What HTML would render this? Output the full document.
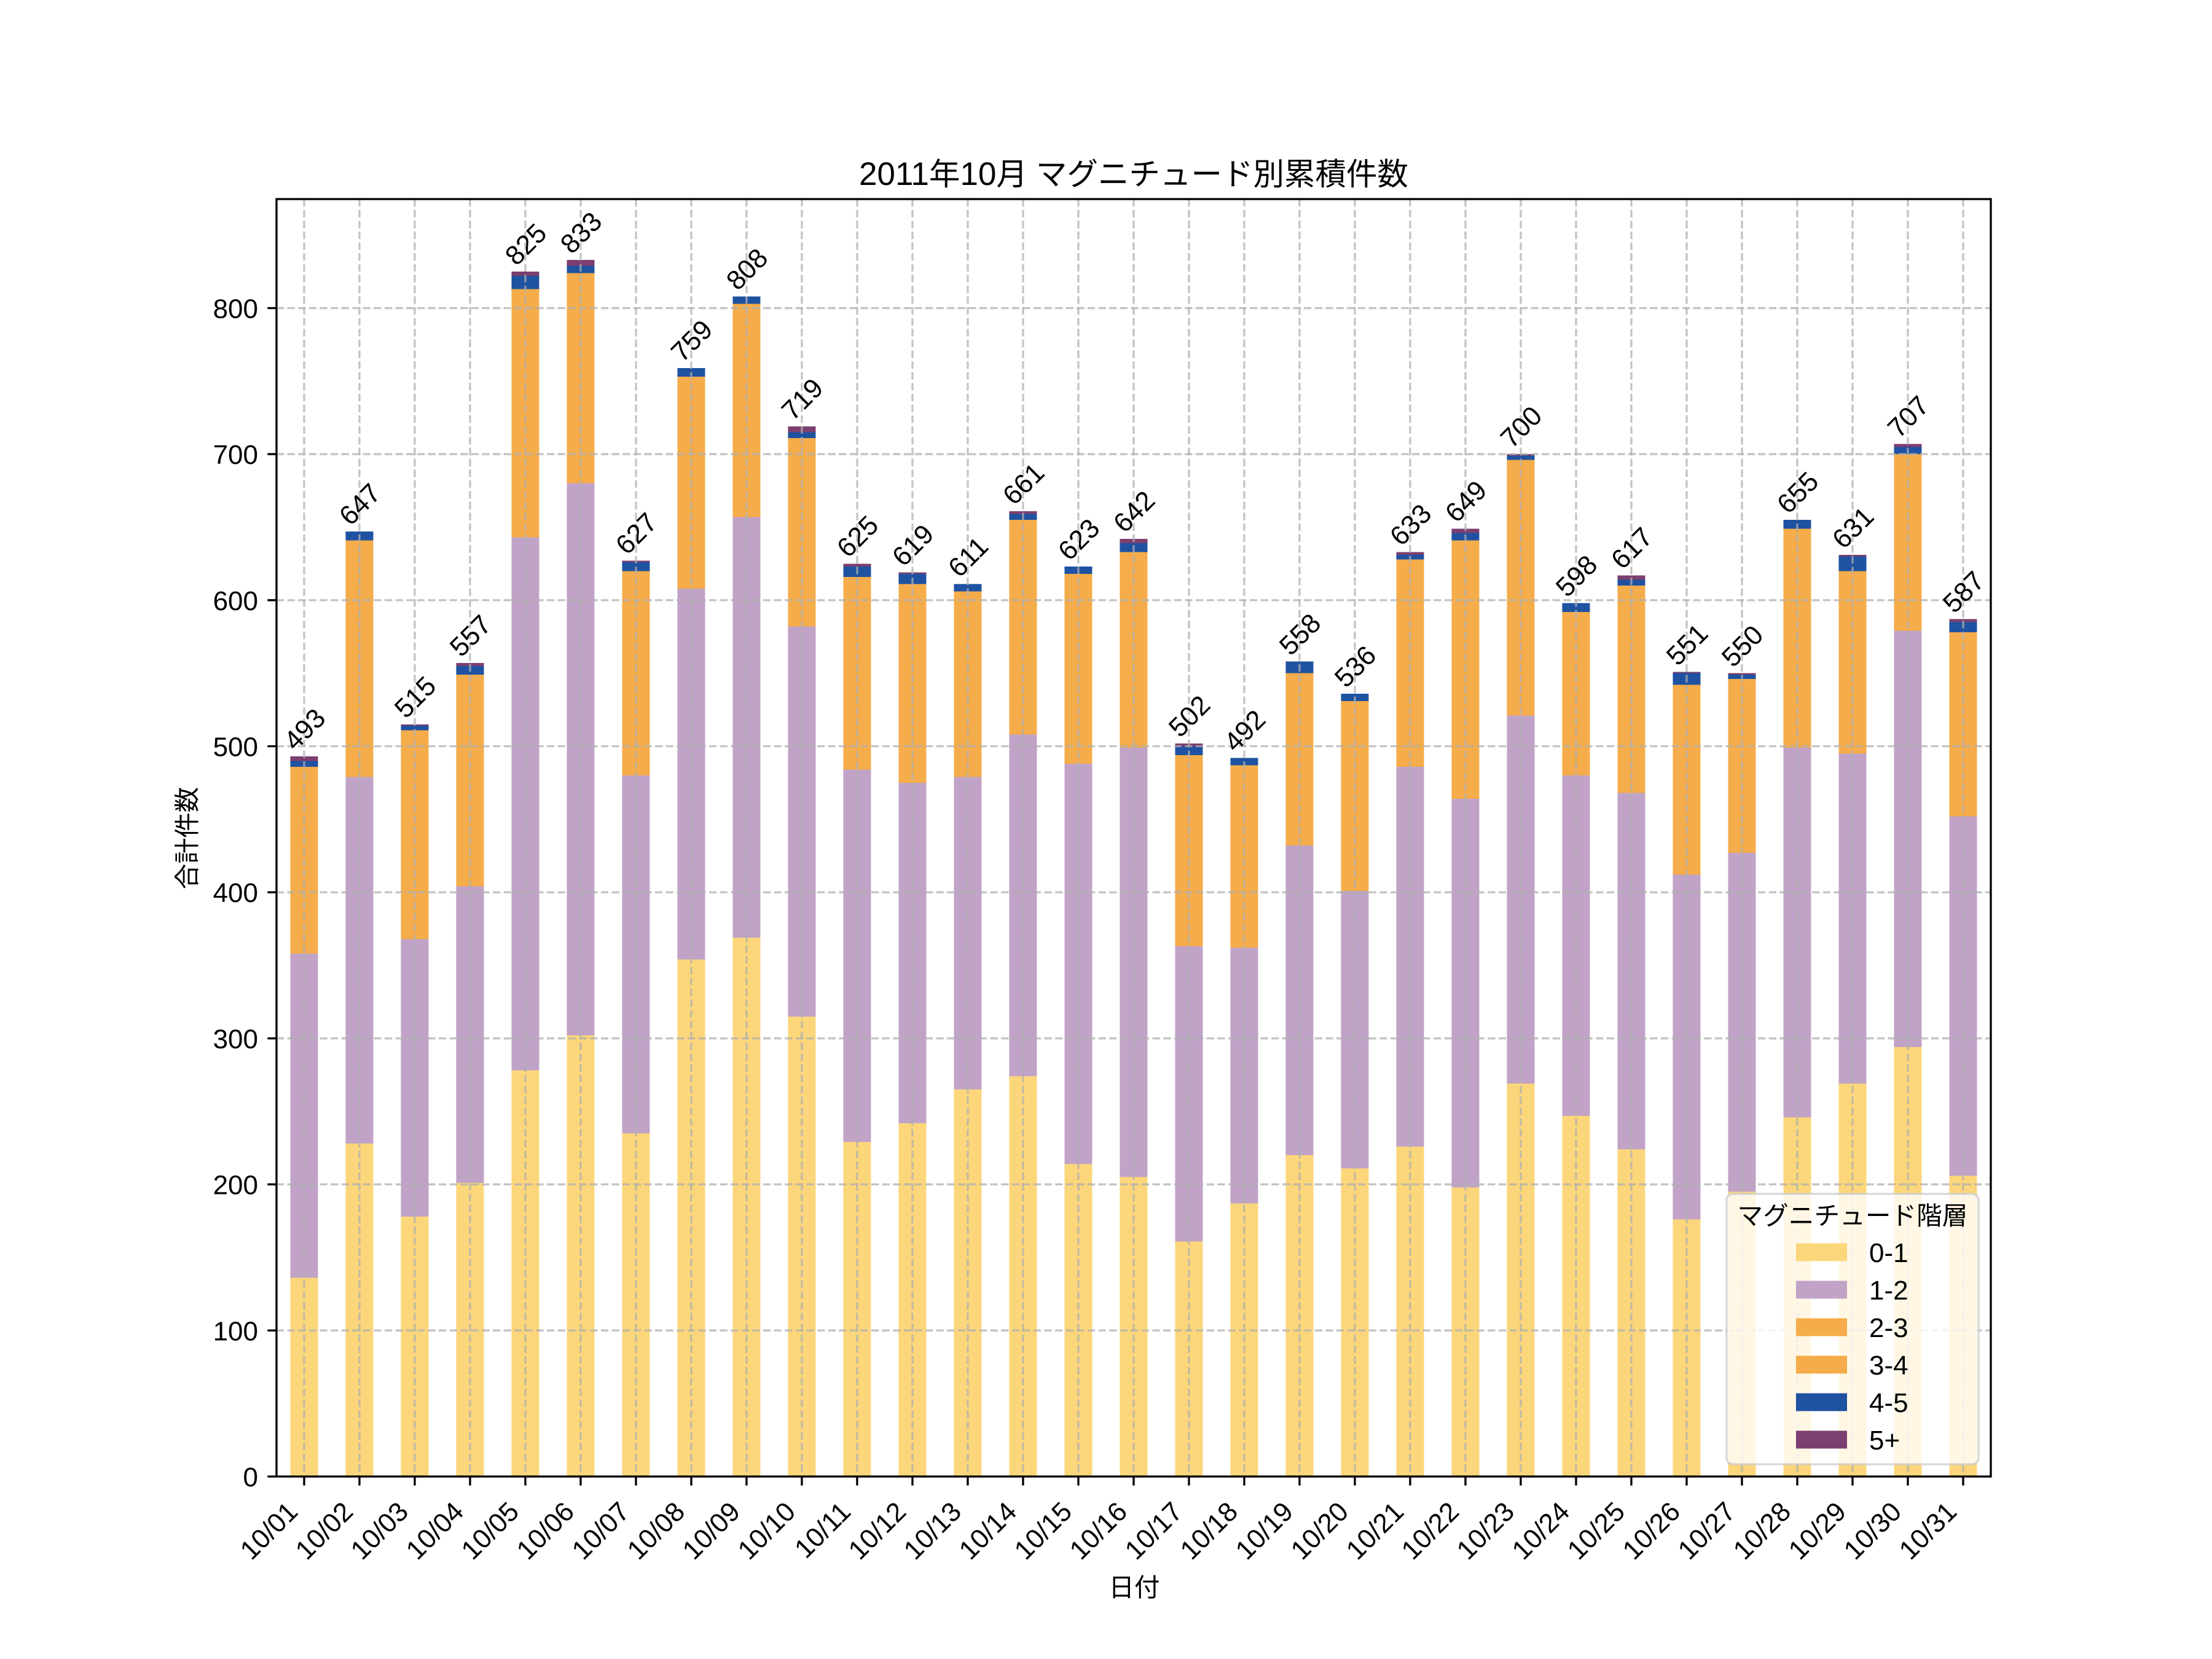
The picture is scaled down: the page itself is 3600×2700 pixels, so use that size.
<!DOCTYPE html>
<html><head><meta charset="utf-8"><style>
html,body{margin:0;padding:0;background:#fff;}
svg{display:block;font-family:"Liberation Sans","Noto Sans CJK JP",sans-serif;}
</style></head><body>
<svg width="3600" height="2700" viewBox="0 0 3600 2700" xmlns="http://www.w3.org/2000/svg">
<rect x="0" y="0" width="3600" height="2700" fill="#fff"/>
<g transform="translate(495,2403) scale(90,-2.37695)" shape-rendering="crispEdges">
<g fill="#FCD67A">
<rect x="-0.25" y="0" width="0.5" height="136"/><rect x="0.75" y="0" width="0.5" height="228"/><rect x="1.75" y="0" width="0.5" height="178"/><rect x="2.75" y="0" width="0.5" height="201"/><rect x="3.75" y="0" width="0.5" height="278"/><rect x="4.75" y="0" width="0.5" height="302"/><rect x="5.75" y="0" width="0.5" height="235"/><rect x="6.75" y="0" width="0.5" height="354"/><rect x="7.75" y="0" width="0.5" height="369"/><rect x="8.75" y="0" width="0.5" height="315"/><rect x="9.75" y="0" width="0.5" height="229"/><rect x="10.75" y="0" width="0.5" height="242"/><rect x="11.75" y="0" width="0.5" height="265"/><rect x="12.75" y="0" width="0.5" height="274"/><rect x="13.75" y="0" width="0.5" height="214"/><rect x="14.75" y="0" width="0.5" height="205"/><rect x="15.75" y="0" width="0.5" height="161"/><rect x="16.75" y="0" width="0.5" height="187"/><rect x="17.75" y="0" width="0.5" height="220"/><rect x="18.75" y="0" width="0.5" height="211"/><rect x="19.75" y="0" width="0.5" height="226"/><rect x="20.75" y="0" width="0.5" height="198"/><rect x="21.75" y="0" width="0.5" height="269"/><rect x="22.75" y="0" width="0.5" height="247"/><rect x="23.75" y="0" width="0.5" height="224"/><rect x="24.75" y="0" width="0.5" height="176"/><rect x="25.75" y="0" width="0.5" height="195"/><rect x="26.75" y="0" width="0.5" height="246"/><rect x="27.75" y="0" width="0.5" height="269"/><rect x="28.75" y="0" width="0.5" height="294"/><rect x="29.75" y="0" width="0.5" height="206"/>
</g>
<g fill="#C0A3C7">
<rect x="-0.25" y="136" width="0.5" height="222"/><rect x="0.75" y="228" width="0.5" height="251"/><rect x="1.75" y="178" width="0.5" height="190"/><rect x="2.75" y="201" width="0.5" height="203"/><rect x="3.75" y="278" width="0.5" height="365"/><rect x="4.75" y="302" width="0.5" height="378"/><rect x="5.75" y="235" width="0.5" height="245"/><rect x="6.75" y="354" width="0.5" height="254"/><rect x="7.75" y="369" width="0.5" height="288"/><rect x="8.75" y="315" width="0.5" height="267"/><rect x="9.75" y="229" width="0.5" height="255"/><rect x="10.75" y="242" width="0.5" height="233"/><rect x="11.75" y="265" width="0.5" height="214"/><rect x="12.75" y="274" width="0.5" height="234"/><rect x="13.75" y="214" width="0.5" height="274"/><rect x="14.75" y="205" width="0.5" height="294"/><rect x="15.75" y="161" width="0.5" height="202"/><rect x="16.75" y="187" width="0.5" height="175"/><rect x="17.75" y="220" width="0.5" height="212"/><rect x="18.75" y="211" width="0.5" height="190"/><rect x="19.75" y="226" width="0.5" height="260"/><rect x="20.75" y="198" width="0.5" height="266"/><rect x="21.75" y="269" width="0.5" height="252"/><rect x="22.75" y="247" width="0.5" height="233"/><rect x="23.75" y="224" width="0.5" height="244"/><rect x="24.75" y="176" width="0.5" height="236"/><rect x="25.75" y="195" width="0.5" height="232"/><rect x="26.75" y="246" width="0.5" height="253"/><rect x="27.75" y="269" width="0.5" height="226"/><rect x="28.75" y="294" width="0.5" height="285"/><rect x="29.75" y="206" width="0.5" height="246"/>
</g>
<g fill="#F5AC4A">
<rect x="-0.25" y="358" width="0.5" height="128"/><rect x="0.75" y="479" width="0.5" height="162"/><rect x="1.75" y="368" width="0.5" height="143"/><rect x="2.75" y="404" width="0.5" height="145"/><rect x="3.75" y="643" width="0.5" height="170"/><rect x="4.75" y="680" width="0.5" height="144"/><rect x="5.75" y="480" width="0.5" height="140"/><rect x="6.75" y="608" width="0.5" height="145"/><rect x="7.75" y="657" width="0.5" height="146"/><rect x="8.75" y="582" width="0.5" height="129"/><rect x="9.75" y="484" width="0.5" height="132"/><rect x="10.75" y="475" width="0.5" height="136"/><rect x="11.75" y="479" width="0.5" height="127"/><rect x="12.75" y="508" width="0.5" height="147"/><rect x="13.75" y="488" width="0.5" height="130"/><rect x="14.75" y="499" width="0.5" height="134"/><rect x="15.75" y="363" width="0.5" height="131"/><rect x="16.75" y="362" width="0.5" height="125"/><rect x="17.75" y="432" width="0.5" height="118"/><rect x="18.75" y="401" width="0.5" height="130"/><rect x="19.75" y="486" width="0.5" height="142"/><rect x="20.75" y="464" width="0.5" height="177"/><rect x="21.75" y="521" width="0.5" height="175"/><rect x="22.75" y="480" width="0.5" height="112"/><rect x="23.75" y="468" width="0.5" height="142"/><rect x="24.75" y="412" width="0.5" height="130"/><rect x="25.75" y="427" width="0.5" height="119"/><rect x="26.75" y="499" width="0.5" height="150"/><rect x="27.75" y="495" width="0.5" height="125"/><rect x="28.75" y="579" width="0.5" height="121"/><rect x="29.75" y="452" width="0.5" height="126"/>
</g>
<g fill="#1F52A1">
<rect x="-0.25" y="486" width="0.5" height="4"/><rect x="0.75" y="641" width="0.5" height="6"/><rect x="1.75" y="511" width="0.5" height="3"/><rect x="2.75" y="549" width="0.5" height="6"/><rect x="3.75" y="813" width="0.5" height="9"/><rect x="4.75" y="824" width="0.5" height="5"/><rect x="5.75" y="620" width="0.5" height="6"/><rect x="6.75" y="753" width="0.5" height="6"/><rect x="7.75" y="803" width="0.5" height="5"/><rect x="8.75" y="711" width="0.5" height="4"/><rect x="9.75" y="616" width="0.5" height="7"/><rect x="10.75" y="611" width="0.5" height="7"/><rect x="11.75" y="606" width="0.5" height="5"/><rect x="12.75" y="655" width="0.5" height="4"/><rect x="13.75" y="618" width="0.5" height="5"/><rect x="14.75" y="633" width="0.5" height="6"/><rect x="15.75" y="494" width="0.5" height="6"/><rect x="16.75" y="487" width="0.5" height="5"/><rect x="17.75" y="550" width="0.5" height="8"/><rect x="18.75" y="531" width="0.5" height="5"/><rect x="19.75" y="628" width="0.5" height="3"/><rect x="20.75" y="641" width="0.5" height="5"/><rect x="21.75" y="696" width="0.5" height="3"/><rect x="22.75" y="592" width="0.5" height="6"/><rect x="23.75" y="610" width="0.5" height="4"/><rect x="24.75" y="542" width="0.5" height="8"/><rect x="25.75" y="546" width="0.5" height="3"/><rect x="26.75" y="649" width="0.5" height="6"/><rect x="27.75" y="620" width="0.5" height="10"/><rect x="28.75" y="700" width="0.5" height="5"/><rect x="29.75" y="578" width="0.5" height="7"/>
</g>
<g fill="#7B3F70">
<rect x="-0.25" y="490" width="0.5" height="3"/><rect x="1.75" y="514" width="0.5" height="1"/><rect x="2.75" y="555" width="0.5" height="2"/><rect x="3.75" y="822" width="0.5" height="3"/><rect x="4.75" y="829" width="0.5" height="4"/><rect x="5.75" y="626" width="0.5" height="1"/><rect x="8.75" y="715" width="0.5" height="4"/><rect x="9.75" y="623" width="0.5" height="2"/><rect x="10.75" y="618" width="0.5" height="1"/><rect x="12.75" y="659" width="0.5" height="2"/><rect x="14.75" y="639" width="0.5" height="3"/><rect x="15.75" y="500" width="0.5" height="2"/><rect x="19.75" y="631" width="0.5" height="2"/><rect x="20.75" y="646" width="0.5" height="3"/><rect x="21.75" y="699" width="0.5" height="1"/><rect x="23.75" y="614" width="0.5" height="3"/><rect x="24.75" y="550" width="0.5" height="1"/><rect x="25.75" y="549" width="0.5" height="1"/><rect x="27.75" y="630" width="0.5" height="1"/><rect x="28.75" y="705" width="0.5" height="2"/><rect x="29.75" y="585" width="0.5" height="2"/>
</g>
</g>
<g stroke="#b0b0b0" stroke-opacity="0.75" stroke-width="3.33" stroke-dasharray="12.3 5.3" fill="none">
<path d="M450 2165.3H3240M450 1927.6H3240M450 1689.9H3240M450 1452.2H3240M450 1214.5H3240M450 976.8H3240M450 739.1H3240M450 501.4H3240"/>
<path d="M495 324V2403M585 324V2403M675 324V2403M765 324V2403M855 324V2403M945 324V2403M1035 324V2403M1125 324V2403M1215 324V2403M1305 324V2403M1395 324V2403M1485 324V2403M1575 324V2403M1665 324V2403M1755 324V2403M1845 324V2403M1935 324V2403M2025 324V2403M2115 324V2403M2205 324V2403M2295 324V2403M2385 324V2403M2475 324V2403M2565 324V2403M2655 324V2403M2745 324V2403M2835 324V2403M2925 324V2403M3015 324V2403M3105 324V2403M3195 324V2403"/>
</g>
<g font-size="44" fill="#000" text-anchor="middle">
<text transform="translate(495,1186.2) rotate(-45)" y="16">493</text>
<text transform="translate(585,820.1) rotate(-45)" y="16">647</text>
<text transform="translate(675,1133.9) rotate(-45)" y="16">515</text>
<text transform="translate(765,1034.0) rotate(-45)" y="16">557</text>
<text transform="translate(855,397.0) rotate(-45)" y="16">825</text>
<text transform="translate(945,378.0) rotate(-45)" y="16">833</text>
<text transform="translate(1035,867.6) rotate(-45)" y="16">627</text>
<text transform="translate(1125,553.9) rotate(-45)" y="16">759</text>
<text transform="translate(1215,437.4) rotate(-45)" y="16">808</text>
<text transform="translate(1305,649.0) rotate(-45)" y="16">719</text>
<text transform="translate(1395,872.4) rotate(-45)" y="16">625</text>
<text transform="translate(1485,886.7) rotate(-45)" y="16">619</text>
<text transform="translate(1575,905.7) rotate(-45)" y="16">611</text>
<text transform="translate(1665,786.8) rotate(-45)" y="16">661</text>
<text transform="translate(1755,877.2) rotate(-45)" y="16">623</text>
<text transform="translate(1845,832.0) rotate(-45)" y="16">642</text>
<text transform="translate(1935,1164.8) rotate(-45)" y="16">502</text>
<text transform="translate(2025,1188.5) rotate(-45)" y="16">492</text>
<text transform="translate(2115,1031.7) rotate(-45)" y="16">558</text>
<text transform="translate(2205,1084.0) rotate(-45)" y="16">536</text>
<text transform="translate(2295,853.4) rotate(-45)" y="16">633</text>
<text transform="translate(2385,815.4) rotate(-45)" y="16">649</text>
<text transform="translate(2475,694.1) rotate(-45)" y="16">700</text>
<text transform="translate(2565,936.6) rotate(-45)" y="16">598</text>
<text transform="translate(2655,891.4) rotate(-45)" y="16">617</text>
<text transform="translate(2745,1048.3) rotate(-45)" y="16">551</text>
<text transform="translate(2835,1050.7) rotate(-45)" y="16">550</text>
<text transform="translate(2925,801.1) rotate(-45)" y="16">655</text>
<text transform="translate(3015,858.1) rotate(-45)" y="16">631</text>
<text transform="translate(3105,677.5) rotate(-45)" y="16">707</text>
<text transform="translate(3195,962.7) rotate(-45)" y="16">587</text>
</g>
<rect x="450" y="324" width="2790" height="2079" fill="none" stroke="#000" stroke-width="3.33"/>
<g stroke="#000" stroke-width="3.33">
<path d="M435.4 2403H450M435.4 2165.3H450M435.4 1927.6H450M435.4 1689.9H450M435.4 1452.2H450M435.4 1214.5H450M435.4 976.8H450M435.4 739.1H450M435.4 501.4H450"/>
<path d="M495 2403V2417.6M585 2403V2417.6M675 2403V2417.6M765 2403V2417.6M855 2403V2417.6M945 2403V2417.6M1035 2403V2417.6M1125 2403V2417.6M1215 2403V2417.6M1305 2403V2417.6M1395 2403V2417.6M1485 2403V2417.6M1575 2403V2417.6M1665 2403V2417.6M1755 2403V2417.6M1845 2403V2417.6M1935 2403V2417.6M2025 2403V2417.6M2115 2403V2417.6M2205 2403V2417.6M2295 2403V2417.6M2385 2403V2417.6M2475 2403V2417.6M2565 2403V2417.6M2655 2403V2417.6M2745 2403V2417.6M2835 2403V2417.6M2925 2403V2417.6M3015 2403V2417.6M3105 2403V2417.6M3195 2403V2417.6"/>
</g>
<g font-size="44" fill="#000" text-anchor="end">
<text x="420" y="2419">0</text>
<text x="420" y="2181.3">100</text>
<text x="420" y="1943.6">200</text>
<text x="420" y="1705.9">300</text>
<text x="420" y="1468.2">400</text>
<text x="420" y="1230.5">500</text>
<text x="420" y="992.8">600</text>
<text x="420" y="755.1">700</text>
<text x="420" y="517.4">800</text>
</g>
<g font-size="44" fill="#000" text-anchor="end">
<text transform="translate(487,2463) rotate(-45)">10/01</text>
<text transform="translate(577,2463) rotate(-45)">10/02</text>
<text transform="translate(667,2463) rotate(-45)">10/03</text>
<text transform="translate(757,2463) rotate(-45)">10/04</text>
<text transform="translate(847,2463) rotate(-45)">10/05</text>
<text transform="translate(937,2463) rotate(-45)">10/06</text>
<text transform="translate(1027,2463) rotate(-45)">10/07</text>
<text transform="translate(1117,2463) rotate(-45)">10/08</text>
<text transform="translate(1207,2463) rotate(-45)">10/09</text>
<text transform="translate(1297,2463) rotate(-45)">10/10</text>
<text transform="translate(1387,2463) rotate(-45)">10/11</text>
<text transform="translate(1477,2463) rotate(-45)">10/12</text>
<text transform="translate(1567,2463) rotate(-45)">10/13</text>
<text transform="translate(1657,2463) rotate(-45)">10/14</text>
<text transform="translate(1747,2463) rotate(-45)">10/15</text>
<text transform="translate(1837,2463) rotate(-45)">10/16</text>
<text transform="translate(1927,2463) rotate(-45)">10/17</text>
<text transform="translate(2017,2463) rotate(-45)">10/18</text>
<text transform="translate(2107,2463) rotate(-45)">10/19</text>
<text transform="translate(2197,2463) rotate(-45)">10/20</text>
<text transform="translate(2287,2463) rotate(-45)">10/21</text>
<text transform="translate(2377,2463) rotate(-45)">10/22</text>
<text transform="translate(2467,2463) rotate(-45)">10/23</text>
<text transform="translate(2557,2463) rotate(-45)">10/24</text>
<text transform="translate(2647,2463) rotate(-45)">10/25</text>
<text transform="translate(2737,2463) rotate(-45)">10/26</text>
<text transform="translate(2827,2463) rotate(-45)">10/27</text>
<text transform="translate(2917,2463) rotate(-45)">10/28</text>
<text transform="translate(3007,2463) rotate(-45)">10/29</text>
<text transform="translate(3097,2463) rotate(-45)">10/30</text>
<text transform="translate(3187,2463) rotate(-45)">10/31</text>
</g>
<text x="1846" y="2598" font-size="41.67" text-anchor="middle" fill="#000">日付</text>
<text transform="translate(303,1364) rotate(-90)" y="16" font-size="41.67" text-anchor="middle" fill="#000">合計件数</text>
<text x="1845" y="301" font-size="50.5" text-anchor="middle" fill="#000"><tspan font-size="53">2011</tspan>年<tspan font-size="53">10</tspan>月 マグニチュード別累積件数</text>
<rect x="2810" y="1943" width="410" height="440" rx="10" ry="10" fill="#fff" fill-opacity="0.8" stroke="#cccccc" stroke-opacity="0.8" stroke-width="3.33"/>
<text x="3015" y="1993" font-size="41.67" text-anchor="middle" fill="#000">マグニチュード階層</text>
<rect x="2923" y="2023.5" width="83" height="29" fill="#FCD67A"/>
<rect x="2923" y="2084.5" width="83" height="29" fill="#C0A3C7"/>
<rect x="2923" y="2145.5" width="83" height="29" fill="#F5AC4A"/>
<rect x="2923" y="2206.5" width="83" height="29" fill="#F5AC4A"/>
<rect x="2923" y="2267.5" width="83" height="29" fill="#1F52A1"/>
<rect x="2923" y="2328.5" width="83" height="29" fill="#7B3F70"/>
<g font-size="44" fill="#000">
<text x="3042" y="2054">0-1</text>
<text x="3042" y="2115">1-2</text>
<text x="3042" y="2176">2-3</text>
<text x="3042" y="2237">3-4</text>
<text x="3042" y="2298">4-5</text>
<text x="3042" y="2359">5+</text>
</g>
</svg>
</body></html>
